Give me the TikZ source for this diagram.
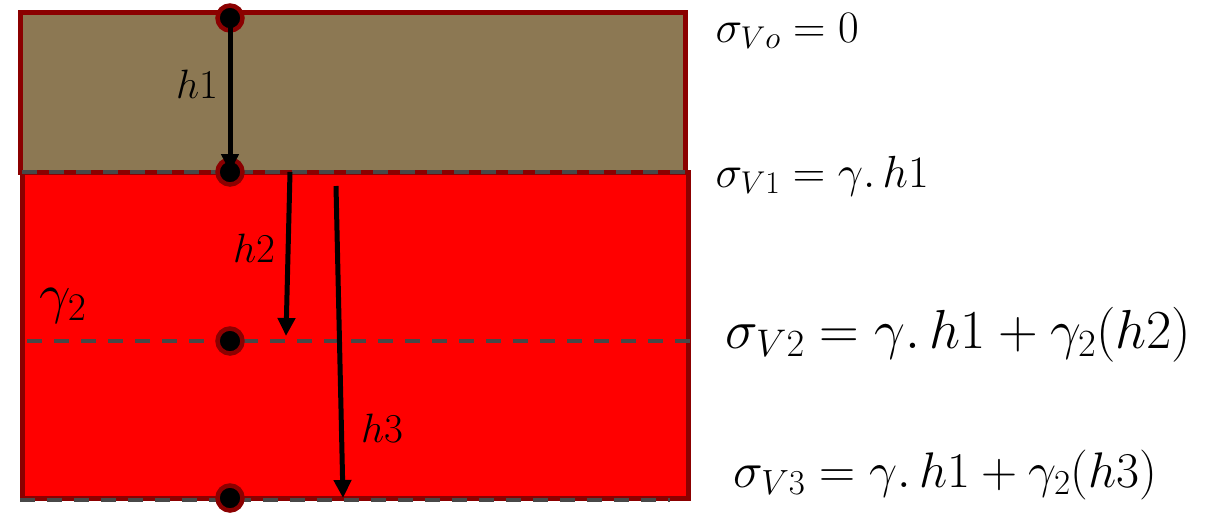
\documentclass[tikz,border=0pt]{standalone}
\usepackage{fix-cm}
\usetikzlibrary{arrows.meta}

\definecolor{soil}{RGB}{140,120,83}
\definecolor{rim}{RGB}{139,0,0}
\definecolor{dashgray}{RGB}{72,72,72}

\tikzset{
  layer/.style={draw=rim, line width=5pt},
  level/.style={draw=dashgray, line width=4pt, dash pattern=on 15pt off 12pt},
  point/.style={circle, fill=black, draw=rim, line width=4.5pt, minimum size=25pt, inner sep=0pt},
  stress/.style={anchor=base west, font=\fontsize{45}{50}\selectfont},
  depth/.style={anchor=base, font=\fontsize{41}{46}\selectfont},
}

\begin{document}
\begin{tikzpicture}[x=1pt, y=-1pt, >={Triangle[length=18pt,width=17pt]}]
\useasboundingbox (0,0) rectangle (1219,515);

% soil layers
\draw[layer, fill=soil] (20,12) rectangle (685,172);
\draw[layer, fill=red] (22,172) rectangle (688,498);
\draw[level] (22,172) -- (685,172);
\draw[level] (27,341) -- (690,341);
\draw[level] (20,500) -- (670,500);

% points
\node[point] (p0) at (230,18) {};
\node[point] (p1) at (230,172) {};
\node[point] (p2) at (230,341) {};
\node[point] (p3) at (230,498) {};

\coordinate (a2) at (290,172);
\coordinate (b2) at (286,336);
\coordinate (a3) at (336,186);
\coordinate (b3) at (343,498);

\draw[->, line width=5pt] (p0.center) -- (p1.center);
\draw[->, line width=5pt] (a2) -- (b2);
\draw[->, line width=5pt] (a3) -- (b3);

\node[depth] (h1) at (197,98) {$h1$};
\node[depth] (h2) at (254,262) {$h2$};
\node[depth] (h3) at (382,442) {$h3$};
\node[depth, anchor=base west, font=\fontsize{56}{60}\selectfont] (g2) at (36,312) {$\gamma_2$};

% stresses
\node[stress] (s0) at (712,42) {$\sigma_{Vo} = 0$};
\node[stress] (s1) at (712,187) {$\sigma_{V1} = \gamma.\,h1$};
\node[stress, font=\fontsize{55}{60}\selectfont] (s2) at (722,348) {$\sigma_{V2} = \gamma.\,h1 + \gamma_2(h2)$};
\node[stress, font=\fontsize{50}{55}\selectfont] (s3) at (730,487) {$\sigma_{V3} = \gamma.\,h1 + \gamma_2(h3)$};
\end{tikzpicture}
\end{document}
